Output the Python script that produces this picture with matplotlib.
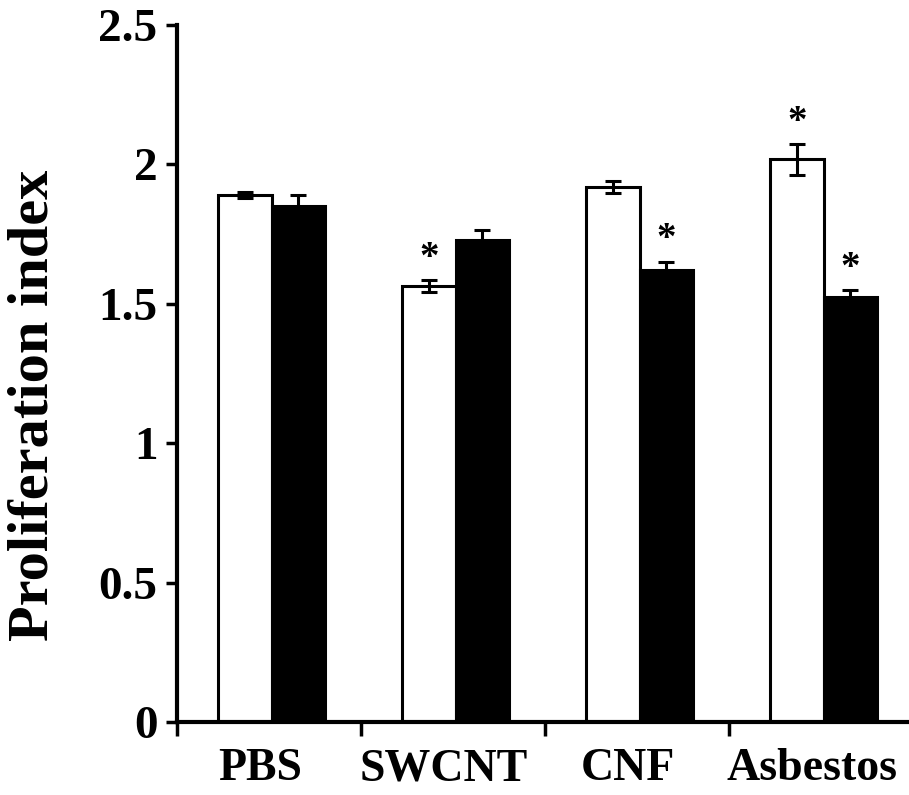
import matplotlib
matplotlib.use("Agg")
import matplotlib.pyplot as plt
import numpy as np

# Datos
categorias = ["PBS", "SWCNT", "CNF", "Asbestos"]
blancas = [1.89, 1.563, 1.918, 2.018]
blancas_err = [0.01, 0.022, 0.022, 0.055]
negras = [1.85, 1.73, 1.62, 1.523]
negras_err = [0.04, 0.036, 0.03, 0.025]
# asteriscos: (indice de categoria, 0 = blanca / 1 = negra)
asteriscos = [(1, 0), (2, 1), (3, 0), (3, 1)]
yticks = [0, 0.5, 1, 1.5, 2, 2.5]
ytick_labels = ["0", "0.5", "1", "1.5", "2", "2.5"]

plt.rcParams["font.family"] = ["Liberation Serif", "DejaVu Serif"]
plt.rcParams["font.weight"] = "bold"

fig = plt.figure(figsize=(9.09, 7.95), dpi=100)
ax = fig.add_axes([177 / 909, 73 / 795, 736 / 909, 697 / 795])

x = np.arange(len(categorias))
ancho = 0.29
centro = 0.515
x_bl = x + centro - ancho / 2
x_ng = x + centro + ancho / 2

ax.bar(x_bl, blancas, ancho, color="white", edgecolor="black", linewidth=2.2, zorder=2)
ax.bar(x_ng, negras, ancho, color="black", edgecolor="black", linewidth=2.2, zorder=2)
ax.errorbar(x_bl, blancas, yerr=blancas_err, fmt="none", ecolor="black",
            elinewidth=2.2, capsize=6, capthick=2.2, zorder=3)
ax.errorbar(x_ng, negras, yerr=negras_err, fmt="none", ecolor="black",
            elinewidth=2.2, capsize=6, capthick=2.2, zorder=3)

for i, s in asteriscos:
    if s == 0:
        xp, top = x_bl[i], blancas[i] + blancas_err[i]
    else:
        xp, top = x_ng[i], negras[i] + negras_err[i]
    ax.annotate("*", xy=(xp, top), xytext=(0, 9), textcoords="offset points",
                ha="center", va="baseline", fontsize=28, fontweight="bold")

ax.set_xlim(0, 4)
ax.set_ylim(0, 2.5)

ax.set_xticks(x)
ax.set_xticklabels([])
ax.set_xticks(x + 0.45, minor=True)
ax.set_xticklabels(categorias, minor=True, fontsize=33, fontweight="bold")
ax.tick_params(axis="x", which="major", direction="out", length=10, width=2.5)
ax.tick_params(axis="x", which="minor", length=0, pad=19)

ax.set_yticks(yticks)
ax.set_yticklabels(ytick_labels, fontsize=34, fontweight="bold")
ax.tick_params(axis="y", direction="out", length=8, width=2.5, pad=6)

for lado in ["top", "right"]:
    ax.spines[lado].set_visible(False)
for lado in ["left", "bottom"]:
    ax.spines[lado].set_linewidth(3)

ax.set_ylabel("Proliferation index", fontsize=42, fontweight="bold")
ax.yaxis.set_label_coords(-0.195, 0.455)
ax.yaxis.label.set_verticalalignment("center")

fig.savefig("out.png", dpi=100)
